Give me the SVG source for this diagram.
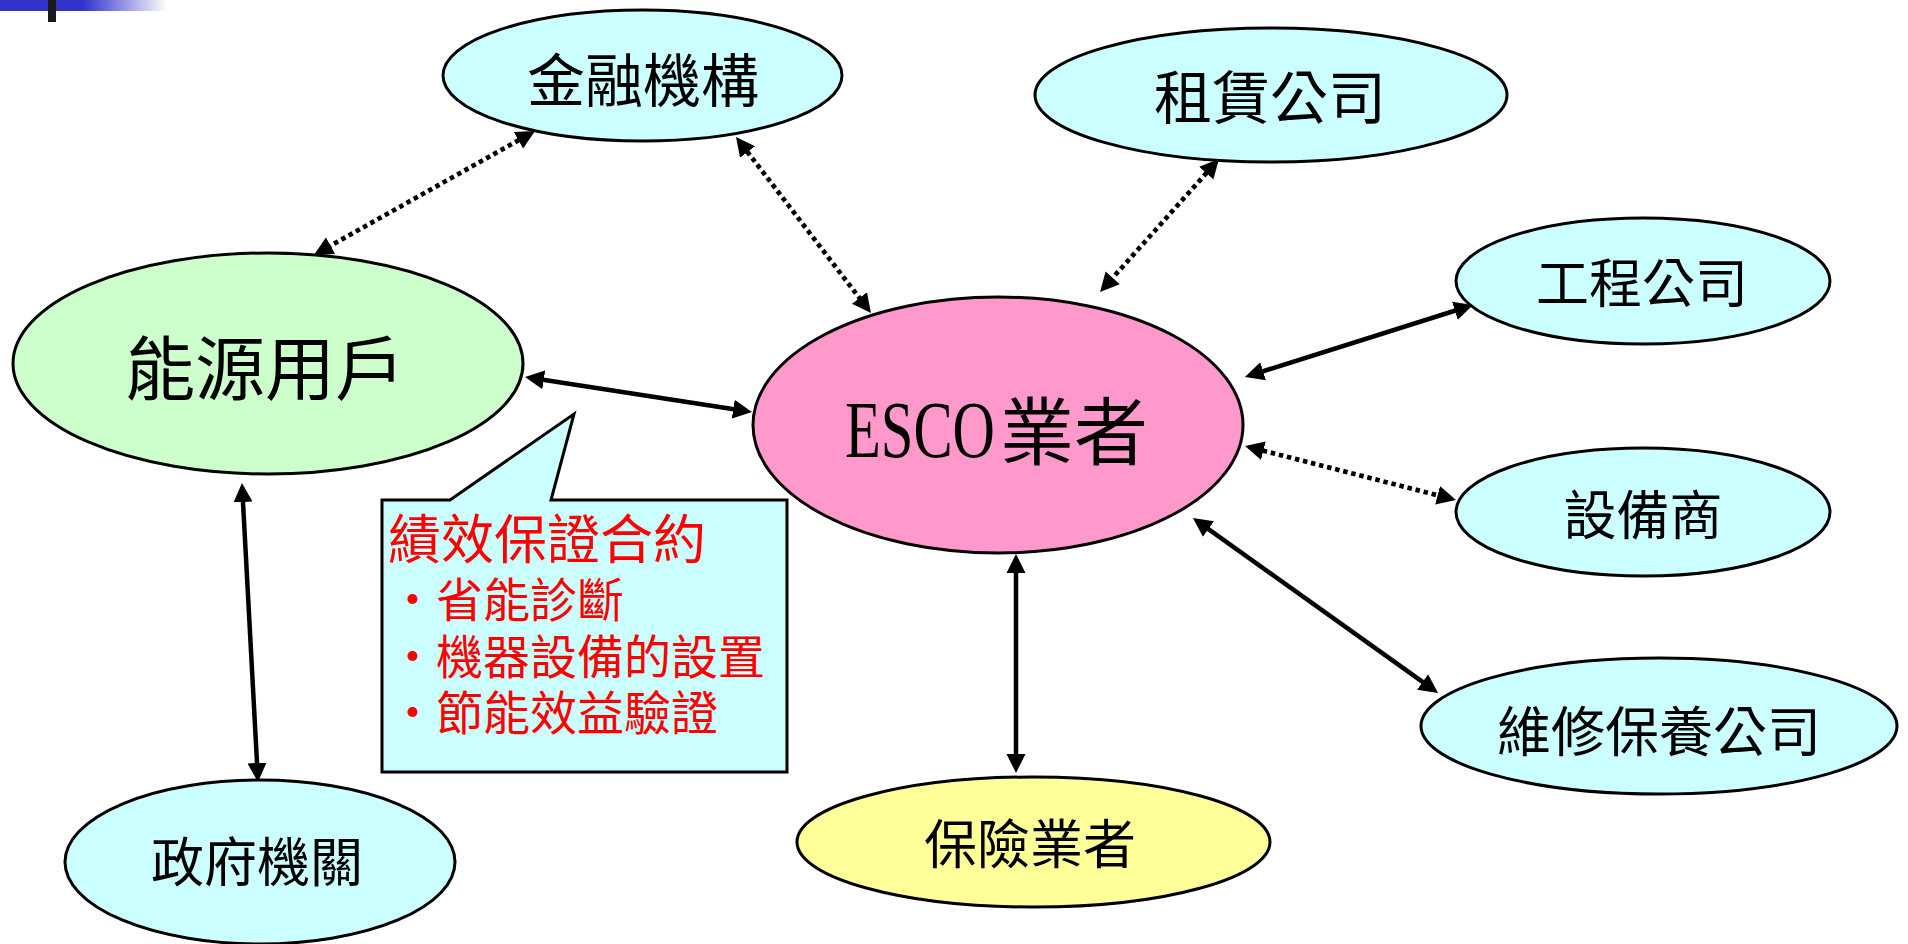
<svg xmlns="http://www.w3.org/2000/svg" width="1908" height="944" viewBox="0 0 1908 944">
<style>
  .node { stroke: #000; stroke-width: 3; }
  .cyan { fill: #CCFFFF; }
  .lbl { font-family: "Noto Sans CJK TC", "Noto Sans CJK SC", sans-serif; fill: #000; text-anchor: middle; }
  .solid { stroke: #000; stroke-width: 4.5; fill: none; marker-start: url(#ah); marker-end: url(#ah); }
  .dotted { stroke: #000; stroke-width: 4.7; stroke-dasharray: 4.5 3.8; fill: none; marker-start: url(#ah); marker-end: url(#ah); }
  .red { font-family: "Noto Sans CJK TC", "Noto Sans CJK SC", sans-serif; fill: #FF0000; }
</style>
<defs>
  <marker id="ah" markerUnits="userSpaceOnUse" markerWidth="20" markerHeight="20" refX="9" refY="9.5" orient="auto-start-reverse" viewBox="0 0 20 19">
    <path d="M0,0 L19,9.5 L0,19 Z" fill="#000"/>
  </marker>
  <linearGradient id="bar" gradientUnits="userSpaceOnUse" x1="0" y1="0" x2="167" y2="0">
    <stop offset="0" stop-color="#3333CC"/>
    <stop offset="0.5" stop-color="#3333CC"/>
    <stop offset="1" stop-color="#FFFFFF"/>
  </linearGradient>
</defs>
<rect width="1908" height="944" fill="#FFFFFF"/>
<g id="decor">
  <rect x="0" y="0" width="167" height="11" fill="url(#bar)"/>
  <rect x="48" y="0" width="8" height="22" fill="#1a1a1a"/>
</g>

<g id="connectors">
  <line class="dotted" x1="526.3" y1="135.9" x2="322.7" y2="250.1"/>
  <line class="dotted" x1="742.1" y1="144.9" x2="864.9" y2="305.1"/>
  <line class="dotted" x1="1212.3" y1="166.5" x2="1106.7" y2="284.5"/>
  <line class="solid" x1="1463.5" y1="308" x2="1254.5" y2="374"/>
  <line class="dotted" x1="1254.7" y1="448.5" x2="1446.3" y2="497.5"/>
  <line class="solid" x1="1201.1" y1="523.8" x2="1429.9" y2="687.2"/>
  <line class="solid" x1="1016" y1="564" x2="1016" y2="763"/>
  <line class="solid" x1="534.9" y1="378.5" x2="742.1" y2="410.5"/>
  <line class="solid" x1="242.5" y1="493" x2="257.5" y2="772"/>
</g>

<g id="jinrong">
  <ellipse class="node cyan" cx="642.5" cy="75.5" rx="199.5" ry="65.5"/>
  <text class="lbl" x="643" y="102" font-size="58">金融機構</text>
</g>
<g id="zulin">
  <ellipse class="node cyan" cx="1271" cy="95" rx="236" ry="67"/>
  <text class="lbl" x="1270" y="119" font-size="58">租賃公司</text>
</g>
<g id="gongcheng">
  <ellipse class="node cyan" cx="1643" cy="281" rx="187" ry="63"/>
  <text class="lbl" x="1642" y="303" font-size="53">工程公司</text>
</g>
<g id="shebei">
  <ellipse class="node cyan" cx="1643" cy="512" rx="187" ry="64"/>
  <text class="lbl" x="1643" y="535" font-size="53">設備商</text>
</g>
<g id="weixiu">
  <ellipse class="node cyan" cx="1659" cy="726" rx="238" ry="68"/>
  <text class="lbl" x="1659" y="752" font-size="54">維修保養公司</text>
</g>
<g id="baoxian">
  <ellipse class="node" fill="#FFFF99" cx="1033.5" cy="842" rx="236.5" ry="65"/>
  <text class="lbl" x="1030" y="864" font-size="53">保險業者</text>
</g>
<g id="zhengfu">
  <ellipse class="node cyan" cx="260" cy="862" rx="195" ry="82"/>
  <text class="lbl" x="257" y="882" font-size="53">政府機關</text>
</g>
<g id="nengyuan">
  <ellipse class="node" fill="#CCFFCC" cx="268" cy="363.5" rx="255" ry="110.5"/>
  <text class="lbl" x="265" y="395" font-size="70">能源用戶</text>
</g>
<g id="esco">
  <ellipse class="node" fill="#FF99CC" cx="998" cy="425" rx="245" ry="128"/>
  <text x="845" y="457" font-family="Liberation Serif, serif" font-size="80" textLength="150" lengthAdjust="spacingAndGlyphs" fill="#000">ESCO</text>
  <text x="1000" y="459" font-family="Noto Sans CJK TC, Noto Sans CJK SC, sans-serif" font-size="74" fill="#000">業者</text>
</g>

<g id="callout">
  <path d="M382,500 L450,500 L574,414 L551,500 L787,500 L787,772 L382,772 Z" fill="#CCFFFF" stroke="#000" stroke-width="3"/>
  <text class="red" x="388" y="559" font-size="53">績效保證合約</text>
  <text class="red" x="389" y="617" font-size="47">・省能診斷</text>
  <text class="red" x="389" y="674" font-size="47">・機器設備的設置</text>
  <text class="red" x="389" y="730" font-size="47">・節能效益驗證</text>
</g>
</svg>
